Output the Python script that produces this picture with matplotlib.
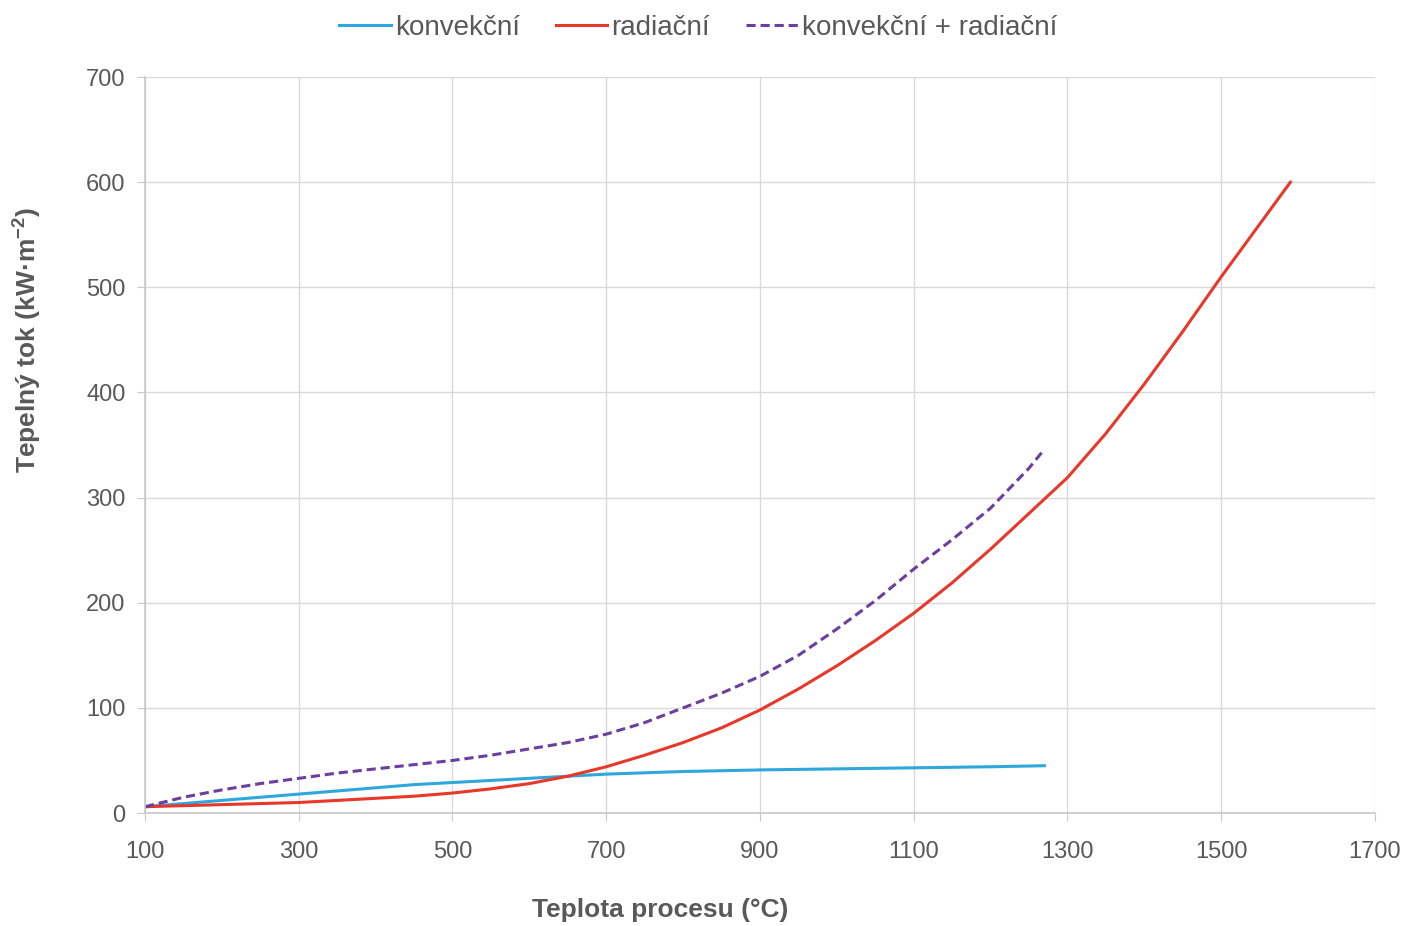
import matplotlib.pyplot as plt

plt.rcParams['font.family'] = ['Liberation Sans', 'DejaVu Sans']

# temperatures (°C) and heat flux (kW/m2)
t_conv = [100, 150, 200, 250, 300, 350, 400, 450, 500, 550, 600, 650, 700, 800, 900, 1000, 1100, 1200, 1270]
q_conv = [6, 9, 12, 15, 18, 21, 24, 27, 29, 31, 33, 35, 37, 39.5, 41, 42, 43, 44, 45]

t_rad = [100, 150, 200, 250, 300, 350, 400, 450, 500, 550, 600, 650, 700, 750, 800, 850, 900, 950,
         1000, 1050, 1100, 1150, 1200, 1250, 1300, 1350, 1400, 1450, 1500, 1550, 1590]
q_rad = [6, 7, 8, 9, 10, 12, 14, 16, 19, 23, 28, 35, 44, 55, 67, 81, 98, 118,
         140, 164, 190, 219, 251, 285, 319, 361, 408, 458, 510, 560, 600]

t_sum = [100, 150, 200, 250, 300, 350, 400, 450, 500, 550, 600, 650, 700, 750, 800, 850, 900, 950,
         1000, 1050, 1100, 1150, 1200, 1250, 1270]
q_sum = [6, 15, 22, 28, 33, 38, 42, 46, 50, 55, 61, 67, 75, 86, 100, 114, 130, 150,
         175, 202, 232, 260, 290, 328, 346]

xticks = [100, 300, 500, 700, 900, 1100, 1300, 1500, 1700]
yticks = [0, 100, 200, 300, 400, 500, 600, 700]

fig = plt.figure(figsize=(14.05, 9.26), dpi=100)
ax = fig.add_axes([0.1032, 0.122, 0.8754, 0.7948])

ax.plot(t_conv, q_conv, color='#2ea8dc', lw=2.2, label='konvekční')
ax.plot(t_rad, q_rad, color='#e8382a', lw=2.2, label='radiační')
ax.plot(t_sum, q_sum, color='#6a3fa0', lw=2.2, ls=(0, (3, 1.6)), label='konvekční + radiační')

ax.set_xlim(100, 1700)
ax.set_ylim(0, 700)
ax.set_xticks(xticks)
ax.set_yticks(yticks)
ax.grid(True, color='#d9d9d9', lw=1)
ax.set_axisbelow(True)
for s in ['top', 'right']:
    ax.spines[s].set_visible(False)
for s in ['left', 'bottom']:
    ax.spines[s].set_color('#c8c8c8')
    ax.spines[s].set_linewidth(1.2)
ax.tick_params(colors='#c8c8c8', labelcolor='#595959', labelsize=17, length=6)
ax.tick_params(axis='x', pad=14)
ax.tick_params(axis='y', pad=8)

ax.set_xlabel('Teplota procesu (°C)', fontsize=19, fontweight='bold', color='#595959')
ax.set_ylabel('Tepelný tok (kW·m$^{\\mathregular{-2}}$)', fontsize=19, fontweight='bold', color='#595959')
ax.xaxis.set_label_coords(0.419, -0.115)
ax.yaxis.set_label_coords(-0.083, 0.643)

fig.legend(loc='upper center', bbox_to_anchor=(0.497, 1.011), ncol=3, frameon=False,
           fontsize=20, handlelength=1.85, handletextpad=0.15, columnspacing=1.3,
           labelcolor='#595959')

plt.savefig('out.png', dpi=100)
